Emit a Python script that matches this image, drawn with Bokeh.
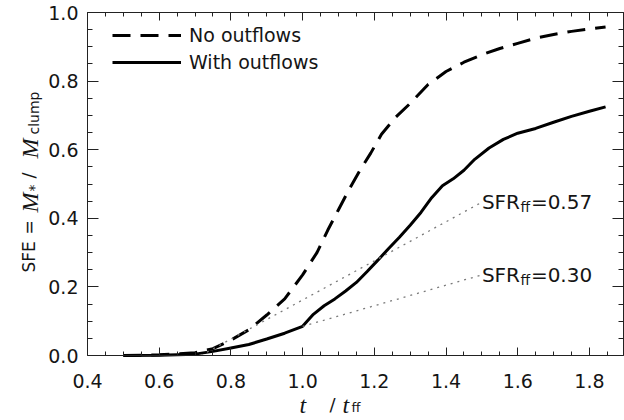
import math
from bokeh.plotting import figure
from bokeh.models import (LinearAxis, FixedTicker, PrintfTickFormatter,
                          Legend, LegendItem, Label, Range1d)
from bokeh.embed import file_html
from bokeh.resources import INLINE

# ---------------- data ----------------
t_no = [0.50, 0.60, 0.70, 0.75, 0.80, 0.85, 0.90, 0.95, 1.00, 1.04, 1.07, 1.10,
        1.13, 1.16, 1.19, 1.22, 1.26, 1.30, 1.35, 1.40, 1.45, 1.50, 1.55, 1.60,
        1.65, 1.70, 1.75, 1.80, 1.845]
sfe_no = [0.000, 0.002, 0.008, 0.020, 0.045, 0.075, 0.118, 0.165, 0.235, 0.300,
          0.365, 0.425, 0.485, 0.540, 0.590, 0.645, 0.695, 0.735, 0.790, 0.828,
          0.855, 0.877, 0.895, 0.910, 0.925, 0.936, 0.945, 0.952, 0.958]

t_with = [0.50, 0.60, 0.70, 0.75, 0.80, 0.85, 0.90, 0.95, 1.00, 1.03, 1.06, 1.09,
          1.12, 1.15, 1.18, 1.21, 1.24, 1.27, 1.30, 1.33, 1.36, 1.39, 1.42, 1.45,
          1.48, 1.52, 1.56, 1.60, 1.65, 1.70, 1.75, 1.80, 1.845]
sfe_with = [0.000, 0.001, 0.004, 0.012, 0.022, 0.032, 0.048, 0.065, 0.085, 0.120,
            0.145, 0.165, 0.188, 0.213, 0.245, 0.278, 0.312, 0.345, 0.380, 0.417,
            0.460, 0.495, 0.515, 0.540, 0.572, 0.605, 0.630, 0.648, 0.662, 0.680,
            0.697, 0.712, 0.725]

# star-formation-rate reference lines: slope, start point, end time
sfr_slopes = [0.57, 0.30]
sfr_labels = ["0.57", "0.30"]
sfr_t_start = [0.716, 1.00]
sfr_y_start = [0.000, 0.085]
sfr_t_end = 1.50

x_major = [0.4, 0.6, 0.8, 1.0, 1.2, 1.4, 1.6, 1.8]
y_major = [0.0, 0.2, 0.4, 0.6, 0.8, 1.0]
minor_step = 0.05

x_start, x_end = 0.4, 1.895
y_start, y_end = 0.0, 1.0

x_minor = [round(m + k * minor_step, 3) for m in x_major for k in (1, 2, 3)
           if m + k * minor_step < x_end]
y_minor = [round(m + k * minor_step, 3) for m in y_major[:-1] for k in (1, 2, 3)]

SANS = "DejaVu Sans"
SERIF = "Liberation Serif"
TXT = "#151515"
W, H = 624, 420
# plot box on the page (pixels): left, right, top, bottom
BL, BR, BT, BB = 87, 623, 12, 355

# the frame fills the whole canvas; the ranges are widened so that the
# plotting box [x_start, x_end] x [y_start, y_end] sits at BL..BR / BT..BB
sxp = (x_end - x_start) / (BR - BL)
syp = (y_end - y_start) / (BB - BT)
x_range = Range1d(x_start - BL * sxp, x_end + (W - BR) * sxp)
y_range = Range1d(y_start - (H - BB) * syp, y_end + BT * syp)

p = figure(width=W, height=H, output_backend="svg", toolbar_location=None,
           x_range=x_range, y_range=y_range,
           x_axis_type=None, y_axis_type=None, min_border=0)
p.xgrid.visible = False
p.ygrid.visible = False
p.outline_line_color = None
p.background_fill_color = "white"
p.border_fill_color = "white"

AX = "#222222"


def make_axis(side, loc, bounds, majors, minors, major_in, minor_in, standoff=0):
    ax = LinearAxis(ticker=FixedTicker(ticks=majors, minor_ticks=minors),
                    formatter=PrintfTickFormatter(format="%.1f"),
                    fixed_location=loc, bounds=bounds)
    ax.major_tick_out = 0
    ax.minor_tick_out = 0
    ax.major_tick_in = major_in
    ax.minor_tick_in = minor_in
    ax.axis_line_color = AX
    ax.major_tick_line_color = AX
    ax.minor_tick_line_color = AX
    ax.axis_line_width = 1
    ax.major_tick_line_width = 1
    ax.minor_tick_line_width = 1
    ax.major_label_text_font = SANS
    ax.major_label_text_font_size = "19px"
    ax.major_label_text_color = TXT
    ax.major_label_standoff = standoff
    p.add_layout(ax, side)
    return ax


xr = (x_start, x_end)
yr = (y_start, y_end)
make_axis("below", y_start, xr, x_major, x_minor, 8, 4, 18)
make_axis("left", x_start, yr, y_major, y_minor, 11, 5, 9)
# top and right frame axes: ticks only (no major ticks -> no labels)
make_axis("above", y_end, xr, [], x_major, 0, 8)
make_axis("above", y_end, xr, [], x_minor, 0, 4)
make_axis("right", x_end, yr, [], y_major, 0, 11)
make_axis("right", x_end, yr, [], y_minor, 0, 5)

# curves
r_no = p.line(t_no, sfe_no, line_color="black", line_width=3, line_dash="18 10")
r_with = p.line(t_with, sfe_with, line_color="black", line_width=3)

# SFR reference lines (dotted) and their labels
for slope, lab, t0, y0 in zip(sfr_slopes, sfr_labels, sfr_t_start, sfr_y_start):
    y1 = y0 + slope * (sfr_t_end - t0)
    p.line([t0, sfr_t_end], [y0, y1], line_color="#7a7a7a", line_width=1.3,
           line_dash="2 5")
    p.add_layout(Label(x=sfr_t_end, y=y1, text="SFR", text_font=SANS,
                       text_font_size="20px", text_color=TXT,
                       text_align="left", text_baseline="alphabetic"))
    p.add_layout(Label(x=sfr_t_end, y=y1, x_offset=38.5, y_offset=-5, text="ff",
                       text_font=SANS, text_font_size="14px", text_color=TXT,
                       text_align="left", text_baseline="alphabetic"))
    p.add_layout(Label(x=sfr_t_end, y=y1, x_offset=49, text="=" + lab,
                       text_font=SANS, text_font_size="20px", text_color=TXT,
                       text_align="left", text_baseline="alphabetic"))

# legend (location = bottom-left corner, screen px from frame bottom-left)
legend = Legend(items=[LegendItem(label="No outflows", renderers=[r_no]),
                       LegendItem(label="With outflows", renderers=[r_with])],
                location=(112, H - 75), padding=0, margin=0, spacing=1,
                glyph_width=69, glyph_height=26, label_height=26,
                label_standoff=8, label_text_font=SANS,
                label_text_font_size="19px", label_text_color=TXT,
                border_line_color=None, background_fill_alpha=0)
p.add_layout(legend)


# axis titles composed from pieces (page pixel coords -> screen units)
def piece(X, Y, text, font, size, style="normal", angle=0.0, align="left"):
    p.add_layout(Label(x=X, y=H - Y, x_units="screen", y_units="screen",
                       text=text, text_font=font, text_font_size=size,
                       text_font_style=style, text_color=TXT,
                       angle=angle, text_align=align,
                       text_baseline="alphabetic"))


A = math.pi / 2
piece(28, 272, "SFE", SANS, "17px", angle=A)
piece(28, 227, "=", SANS, "17px", angle=A, align="center")
piece(29, 212, "M", SERIF, "24px", "italic", angle=A)
piece(33, 191, "*", SANS, "14px", angle=A)
piece(28, 175, "/", SANS, "18px", angle=A, align="center")
piece(29, 158, "M", SERIF, "24px", "italic", angle=A)
piece(33, 134, "clump", SANS, "14px", angle=A)

piece(299, 404, "t", SERIF, "24px", "italic")
piece(332, 404, "/", SANS, "18px", align="center")
piece(342, 404, "t", SERIF, "24px", "italic")
piece(351, 407, "ff", SANS, "13px")

open("out.html", "w").write(file_html(p, INLINE))
